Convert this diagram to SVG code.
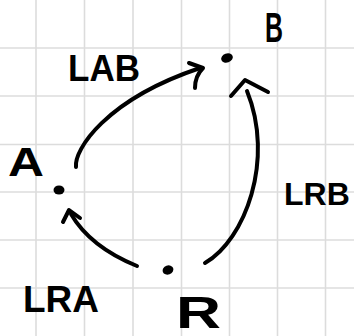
<svg xmlns="http://www.w3.org/2000/svg" width="354" height="336" viewBox="0 0 354 336">
<style>
.grid line{stroke:#dcdcdc;stroke-width:1.6}
.edge{fill:none;stroke:#000;stroke-width:4;stroke-linecap:round;stroke-linejoin:round}
.lbl{font-family:"Liberation Sans",Arial,sans-serif;font-weight:bold;fill:#000}
</style>
<rect width="354" height="336" fill="#fff"/>
<g class="grid">
<line x1="36" y1="0" x2="36" y2="336"/><line x1="84.5" y1="0" x2="84.5" y2="336"/><line x1="133" y1="0" x2="133" y2="336"/><line x1="181.5" y1="0" x2="181.5" y2="336"/><line x1="229.5" y1="0" x2="229.5" y2="336"/><line x1="277.5" y1="0" x2="277.5" y2="336"/><line x1="325.5" y1="0" x2="325.5" y2="336"/>
<line x1="0" y1="48" x2="354" y2="48"/><line x1="0" y1="96" x2="354" y2="96"/><line x1="0" y1="144.5" x2="354" y2="144.5"/><line x1="0" y1="192" x2="354" y2="192"/><line x1="0" y1="240" x2="354" y2="240"/><line x1="0" y1="288" x2="354" y2="288"/>
</g>
<g id="connectors">
<path class="edge" d="M76,167 C74,150 105,100 200,68"/>
<path class="edge" d="M189,63 L203,68 Q195,76 195,88"/>
<path class="edge" d="M205,263 C245,240 275,160 247,91"/>
<path class="edge" d="M231,96 L245,80 L268,92"/>
<path class="edge" d="M137,266 C110,255 85,238 71,214"/>
<path class="edge" d="M63,222 L69,210 L80,218"/>
</g>
<g id="node-A"><ellipse cx="59" cy="190" rx="5.5" ry="4.5"/><text class="lbl" x="8" y="176" font-size="40" textLength="36" lengthAdjust="spacingAndGlyphs">A</text></g>
<g id="node-B"><ellipse cx="227" cy="58" rx="6" ry="4.5" transform="rotate(-20 227 58)"/><text class="lbl" x="265" y="42" font-size="42" textLength="18" lengthAdjust="spacingAndGlyphs">B</text></g>
<g id="node-R"><ellipse cx="168" cy="270" rx="5.5" ry="4.5" transform="rotate(-20 168 270)"/><text class="lbl" x="176" y="328" font-size="44" textLength="45" lengthAdjust="spacingAndGlyphs">R</text></g>
<g id="label-LAB"><text class="lbl" x="68" y="81" font-size="36" textLength="72" lengthAdjust="spacingAndGlyphs">LAB</text></g>
<g id="label-LRB"><text class="lbl" x="284" y="205" font-size="32">LRB</text></g>
<g id="label-LRA"><text class="lbl" x="23" y="312" font-size="37" textLength="76" lengthAdjust="spacingAndGlyphs">LRA</text></g>
</svg>
